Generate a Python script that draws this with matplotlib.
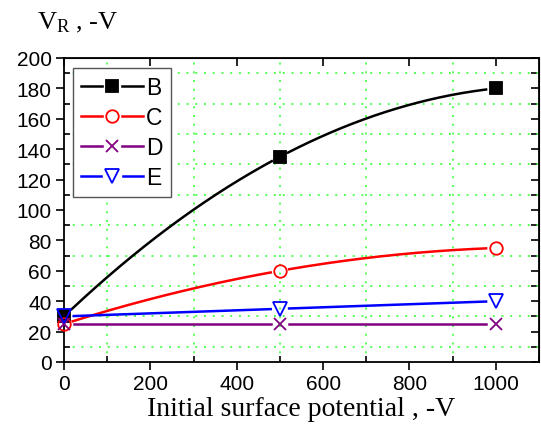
import numpy as np
import matplotlib
matplotlib.use('Agg')
import matplotlib.pyplot as plt
from matplotlib.lines import Line2D
from matplotlib.legend_handler import HandlerTuple
from matplotlib.ticker import MultipleLocator

plt.rcParams['font.family'] = 'Liberation Sans'
plt.rcParams['mathtext.fontset'] = 'custom'
plt.rcParams['mathtext.rm'] = 'Liberation Serif'

# data
potential = [0, 500, 1000]
series_names = ['B', 'C', 'D', 'E']
vr_B = [30, 135, 180]
vr_C = [25, 60, 75]
vr_D = [25, 25, 25]
vr_E = [30, 35, 40]

styles = {
    'B': dict(color='black', marker='s', mfc='black', ms=8),
    'C': dict(color='red', marker='o', mfc='none', ms=9),
    'D': dict(color='purple', marker='x', mfc='none', ms=9),
    'E': dict(color='blue', marker='v', mfc='none', ms=10),
}
values = {'B': vr_B, 'C': vr_C, 'D': vr_D, 'E': vr_E}

fig = plt.figure(figsize=(5.41, 4.31), dpi=100)
fig.subplots_adjust(left=64/541, right=539/541, top=1-59/431, bottom=1-363/431)
ax = fig.add_subplot(111)
ax.set_xlim(0, 1100)
ax.set_ylim(0, 200)

ax.xaxis.set_major_locator(MultipleLocator(200))
ax.xaxis.set_minor_locator(MultipleLocator(100))
ax.yaxis.set_major_locator(MultipleLocator(20))
ax.yaxis.set_minor_locator(MultipleLocator(10))
ax.tick_params(which='major', direction='out', length=6, width=1.2, labelsize=15, pad=3,
               top=False, right=False)
ax.tick_params(which='minor', direction='in', length=4, width=1.2, top=False, right=False)
# grid only on the odd (minor) positions
ax.grid(which='minor', color='#55ff55', linestyle=(0, (1, 3.5)), linewidth=1.4)
ax.grid(which='major', visible=False)
for s in ax.spines.values():
    s.set_linewidth(1.3)

top = ax.secondary_xaxis('top')
top.xaxis.set_major_locator(MultipleLocator(200))
top.tick_params(direction='in', length=6, width=1.2, labeltop=False)
right = ax.secondary_yaxis('right')
right.yaxis.set_major_locator(MultipleLocator(10))
right.tick_params(direction='in', length=6, width=1.2, labelright=False)

# smooth curves through the points, with gaps round the markers like Origin does
gap_px = 9
handles = []
for name in series_names:
    st = styles[name]
    ys_pts = values[name]
    coef = np.polyfit(potential, ys_pts, 2)
    xs = np.linspace(potential[0], potential[-1], 400)
    ys = np.polyval(coef, xs)
    disp = ax.transData.transform(np.column_stack([xs, ys]))
    mk = ax.transData.transform(np.column_stack([potential, ys_pts]))
    for p in mk:
        d = np.hypot(disp[:, 0] - p[0], disp[:, 1] - p[1])
        ys = np.where(d < gap_px, np.nan, ys)
    ax.plot(xs, ys, color=st['color'], lw=1.8, zorder=3)
    ax.plot(potential, ys_pts, ls='none', marker=st['marker'], ms=st['ms'],
            mfc=st['mfc'], mec=st['color'], mew=1.3, color=st['color'],
            clip_on=False, zorder=4)

    h_line = Line2D([], [], color=st['color'], lw=1.8)
    h_bg = Line2D([], [], ls='none', marker='s', ms=st['ms'] + 3, mfc='white', mec='white')
    h_mk = Line2D([], [], ls='none', marker=st['marker'], ms=st['ms'], mfc=st['mfc'],
                  mec=st['color'], mew=1.3)
    handles.append((h_line, h_bg, h_mk))

leg = ax.legend(handles, series_names, handler_map={tuple: HandlerTuple(ndivide=1)},
                loc='upper left', bbox_to_anchor=((73-64)/475, 1-(69-59)/304),
                borderaxespad=0, fontsize=16.5, handlelength=2.7, handletextpad=0.15,
                labelspacing=0.3, borderpad=0.35, numpoints=1, fancybox=False,
                framealpha=1, edgecolor='#555555')
leg.get_frame().set_linewidth(1.0)
leg.set_zorder(5)

ax.set_xlabel('Initial surface potential , -V', family='Liberation Serif', fontsize=20,
              labelpad=2)
fig.text(37/541, 1-29/431, r'$\mathregular{V_R}$ , -V', family='Liberation Serif',
         fontsize=19, ha='left', va='baseline')

fig.savefig('out.png', dpi=100)
